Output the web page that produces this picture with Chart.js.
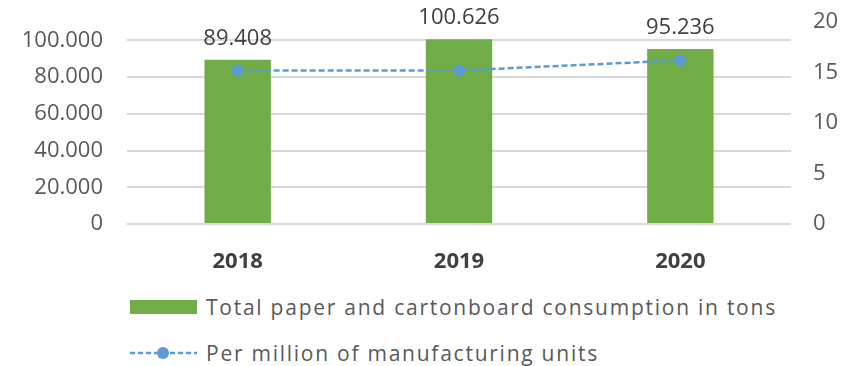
<!DOCTYPE html>
<html>
<head>
<meta charset="utf-8">
<script src="https://cdn.jsdelivr.net/npm/chart.js@4/dist/chart.umd.min.js"></script>
<style>
  body { margin: 0; background: #fff; font-family: "Open Sans", sans-serif; }
  #page { position: relative; width: 850px; height: 366px; overflow: hidden; }
  #wrap { position: absolute; left: 0; top: 0; width: 850px; height: 280px; }
  .item { position: absolute; left: 130px; height: 30px; display: flex; align-items: center; }
  .item span { margin-left: 9px; font-size: 21px; color: #595959; letter-spacing: 1.75px; white-space: nowrap; }
  .box { width: 67px; height: 14px; background: #70ad47; }
</style>
</head>
<body>
<div id="page">
  <div id="wrap"><canvas id="chartPaper"></canvas></div>
  <div class="item" style="top:292px"><div class="box"></div><span id="lbl0"></span></div>
  <div class="item" style="top:338px">
    <svg width="67" height="14"><line x1="0" y1="7" x2="67" y2="7" stroke="#5b9bd5" stroke-width="2.5" stroke-dasharray="5 3"/><circle cx="33" cy="7" r="6" fill="#5b9bd5"/></svg>
    <span id="lbl1"></span>
  </div>
</div>
<script>
const years = ['2018', '2019', '2020'];
const paperTons = [89408, 100626, 95236];
const perMillionUnits = [15.2, 15.2, 16.2];
const seriesNames = ['Total paper and cartonboard consumption in tons', 'Per million of manufacturing units'];
const tonTicks = [0, 20000, 40000, 60000, 80000, 100000];
const unitTicks = [0, 5, 10, 15, 20];

const fmt = v => String(v).replace(/\B(?=(\d{3})+(?!\d))/g, '.');

document.getElementById('lbl0').textContent = seriesNames[0];
document.getElementById('lbl1').textContent = seriesNames[1];

// values above the bars
const barLabels = {
    id: 'barLabels',
    afterDatasetsDraw(chart) {
        const ctx = chart.ctx;
        const meta = chart.getDatasetMeta(0);
        ctx.save();
        ctx.font = '22px "Open Sans"';
        ctx.fillStyle = '#404040';
        ctx.textAlign = 'center';
        ctx.textBaseline = 'middle';
        meta.data.forEach((bar, i) => {
            ctx.fillText(fmt(paperTons[i]), bar.x, bar.y - 21);
        });
        ctx.restore();
    }
};

// keep tick label room from pushing the plot down
const noPad = (w) => (scale) => {
    scale.width = w;
    scale.paddingTop = 0;
    scale.paddingBottom = 0;
};

const data = {
    labels: years,
    datasets: [{
        type: 'bar',
        label: seriesNames[0],
        data: paperTons,
        yAxisID: 'y',
        backgroundColor: '#70ad47',
        barPercentage: 0.3,
        categoryPercentage: 1,
        order: 1
    }, {
        type: 'line',
        label: seriesNames[1],
        data: perMillionUnits,
        yAxisID: 'y2',
        borderColor: '#5b9bd5',
        borderWidth: 2.5,
        borderDash: [6, 3],
        pointRadius: 6,
        pointBackgroundColor: '#5b9bd5',
        pointBorderWidth: 0,
        order: 0
    }]
};

const config = {
    data: data,
    options: {
        responsive: true,
        maintainAspectRatio: false,
        animation: false,
        layout: { padding: { top: 22 } },
        plugins: { legend: { display: false }, tooltip: { enabled: false } },
        scales: {
            x: {
                grid: { display: false },
                border: { display: false },
                ticks: { color: '#404040', font: { family: 'Open Sans', size: 22, weight: 'bold' }, padding: 17 },
                afterFit(scale) { scale.height = 56; }
            },
            y: {
                position: 'left',
                min: 0,
                max: 110000,
                ticks: { color: '#595959', font: { family: 'Open Sans', size: 22 }, padding: 24, callback: v => fmt(v) },
                grid: { color: '#d9d9d9', lineWidth: 2, drawTicks: false },
                border: { display: false },
                afterBuildTicks(scale) { scale.ticks = tonTicks.map(v => ({ value: v })); },
                afterFit: noPad(127)
            },
            y2: {
                position: 'right',
                min: 0,
                max: 20,
                ticks: { color: '#595959', font: { family: 'Open Sans', size: 22 }, padding: 22 },
                grid: { display: false, drawTicks: false },
                border: { display: false },
                afterBuildTicks(scale) { scale.ticks = unitTicks.map(v => ({ value: v })); },
                afterFit: noPad(59)
            }
        }
    },
    plugins: [barLabels]
};

const myChart = new Chart(document.getElementById('chartPaper'), config);
</script>
</body>
</html>
